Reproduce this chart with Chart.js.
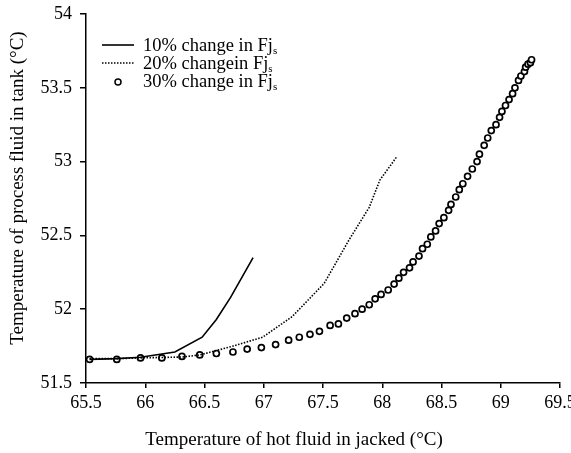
<!DOCTYPE html>
<html>
<head>
<meta charset="utf-8">
<script src="https://cdn.jsdelivr.net/npm/chart.js@4.4.1/dist/chart.umd.min.js"></script>
<style>
  html, body { margin: 0; padding: 0; background: #fff; }
  #wrap { width: 571px; height: 453px; }
</style>
</head>
<body>
<div id="wrap"><canvas id="tankChart" width="571" height="453"></canvas></div>
<script>
// 10% change in Fjs (solid line)
const fj10X = [65.53, 65.76, 65.96, 66.25, 66.48, 66.60, 66.72, 66.91];
const fj10Y = [51.66, 51.665, 51.674, 51.71, 51.81, 51.93, 52.08, 52.35];

// 20% change in Fjs (dotted line)
const fj20X = [65.53, 65.76, 65.96, 66.31, 66.46, 66.74, 66.99, 67.24, 67.51, 67.72, 67.89, 67.98, 68.12];
const fj20Y = [51.665, 51.665, 51.67, 51.676, 51.69, 51.75, 51.81, 51.95, 52.175, 52.47, 52.69, 52.875, 53.03];

// 30% change in Fjs (open circles)
const fj30X = [65.53, 65.76, 65.96, 66.14, 66.31, 66.46, 66.60, 66.74, 66.86, 66.98,
               67.10, 67.21, 67.30, 67.39, 67.47, 67.56, 67.63, 67.70, 67.77, 67.83,
               67.89, 67.94, 67.99, 68.05, 68.10, 68.14, 68.18, 68.23, 68.26, 68.31,
               68.34, 68.38, 68.41, 68.45, 68.48, 68.52, 68.56, 68.58, 68.62, 68.65,
               68.68, 68.72, 68.76, 68.80, 68.82, 68.86, 68.89, 68.92, 68.96, 68.99,
               69.01, 69.04, 69.07, 69.10, 69.12, 69.15, 69.17, 69.20, 69.21, 69.23,
               69.25, 69.26];
const fj30Y = [51.66, 51.66, 51.67, 51.67, 51.68, 51.69, 51.70, 51.71, 51.73, 51.74,
               51.76, 51.79, 51.81, 51.83, 51.85, 51.89, 51.90, 51.94, 51.97, 52.00,
               52.03, 52.07, 52.10, 52.13, 52.17, 52.21, 52.25, 52.28, 52.32, 52.36,
               52.41, 52.44, 52.49, 52.53, 52.58, 52.62, 52.67, 52.71, 52.76, 52.81,
               52.85, 52.90, 52.95, 53.00, 53.05, 53.11, 53.16, 53.21, 53.25, 53.30,
               53.34, 53.38, 53.42, 53.46, 53.50, 53.55, 53.58, 53.61, 53.64, 53.66,
               53.67, 53.69];

const seriesLabels = ['10% change in Fj', '20% changein Fj', '30% change in Fj'];
const xTickLabels = ['65.5', '66', '66.5', '67', '67.5', '68', '68.5', '69', '69.5'];
const yTickLabels = ['51.5', '52', '52.5', '53', '53.5', '54'];
const xTitle = 'Temperature of hot fluid in jacked (°C)';
const yTitle = 'Temperature of process fluid in tank (°C)';

const serif = '"Liberation Serif", "Times New Roman", serif';

function pts(xs, ys) {
    return xs.map((x, i) => ({ x: x, y: ys[i] }));
}

// legend with subscript s, plus the two axis titles
const annotate = {
    id: 'annotate',
    afterDraw(chart) {
        const ctx = chart.ctx;
        ctx.save();
        ctx.fillStyle = '#000';
        ctx.strokeStyle = '#000';
        ctx.textBaseline = 'middle';
        seriesLabels.forEach((lab, i) => {
            const y = 45 + i * 18;
            const ds = chart.data.datasets[i];
            ctx.beginPath();
            if (i === 2) {
                ctx.lineWidth = 1.5;
                ctx.fillStyle = '#fff';
                ctx.arc(118, y + 1, 3, 0, Math.PI * 2);
                ctx.fill();
                ctx.stroke();
                ctx.fillStyle = '#000';
            } else {
                ctx.lineWidth = ds.borderWidth;
                ctx.setLineDash(ds.borderDash || []);
                ctx.moveTo(102, y);
                ctx.lineTo(134, y);
                ctx.stroke();
                ctx.setLineDash([]);
            }
            ctx.font = '18.5px ' + serif;
            ctx.textAlign = 'left';
            ctx.fillText(lab, 143, y + 1);
            const w = ctx.measureText(lab).width;
            ctx.font = '11px ' + serif;
            ctx.fillText('s', 143 + w, y + 6);
        });

        ctx.font = '19px ' + serif;
        ctx.textAlign = 'center';
        ctx.fillText(xTitle, 294, 440);
        ctx.translate(18, 188);
        ctx.rotate(-Math.PI / 2);
        ctx.fillText(yTitle, 0, 0);
        ctx.restore();
    }
};

const config = {
    type: 'scatter',
    data: {
        datasets: [{
            label: seriesLabels[0],
            data: pts(fj10X, fj10Y),
            showLine: true,
            borderColor: '#000',
            borderWidth: 1.6,
            pointRadius: 0,
            tension: 0
        }, {
            label: seriesLabels[1],
            data: pts(fj20X, fj20Y),
            showLine: true,
            borderColor: '#000',
            borderWidth: 1.6,
            borderDash: [1.5, 1.5],
            pointRadius: 0,
            tension: 0
        }, {
            label: seriesLabels[2],
            data: pts(fj30X, fj30Y),
            showLine: false,
            borderColor: '#000',
            backgroundColor: '#fff',
            borderWidth: 1.7,
            pointRadius: 3
        }]
    },
    options: {
        responsive: false,
        animation: false,
        layout: { padding: { top: 14, right: 11, left: 0, bottom: 0 } },
        plugins: {
            legend: { display: false },
            tooltip: { enabled: false }
        },
        scales: {
            x: {
                type: 'linear',
                min: 65.5,
                max: 69.5,
                ticks: {
                    stepSize: 0.5,
                    color: '#000',
                    padding: 4,
                    maxRotation: 0,
                    font: { family: serif, size: 18 },
                    callback: (v, i) => xTickLabels[i]
                },
                grid: { drawOnChartArea: false, drawTicks: true, tickLength: 5, color: '#000', lineWidth: 1.5 },
                border: { display: true, color: '#000', width: 1.5 },
                afterFit(scale) {
                    scale.height = 70;
                    scale.paddingLeft = 0;
                    scale.paddingRight = 0;
                }
            },
            y: {
                min: 51.5,
                max: 54,
                ticks: {
                    stepSize: 0.5,
                    color: '#000',
                    padding: 8,
                    font: { family: serif, size: 18 },
                    callback: (v, i) => yTickLabels[i]
                },
                grid: { drawOnChartArea: false, drawTicks: true, tickLength: 6, color: '#000', lineWidth: 1.5 },
                border: { display: true, color: '#000', width: 1.5 },
                afterFit(scale) {
                    scale.width = 86;
                    scale.paddingTop = 0;
                    scale.paddingBottom = 0;
                }
            }
        }
    },
    plugins: [annotate]
};

new Chart(document.getElementById('tankChart'), config);
</script>
</body>
</html>
